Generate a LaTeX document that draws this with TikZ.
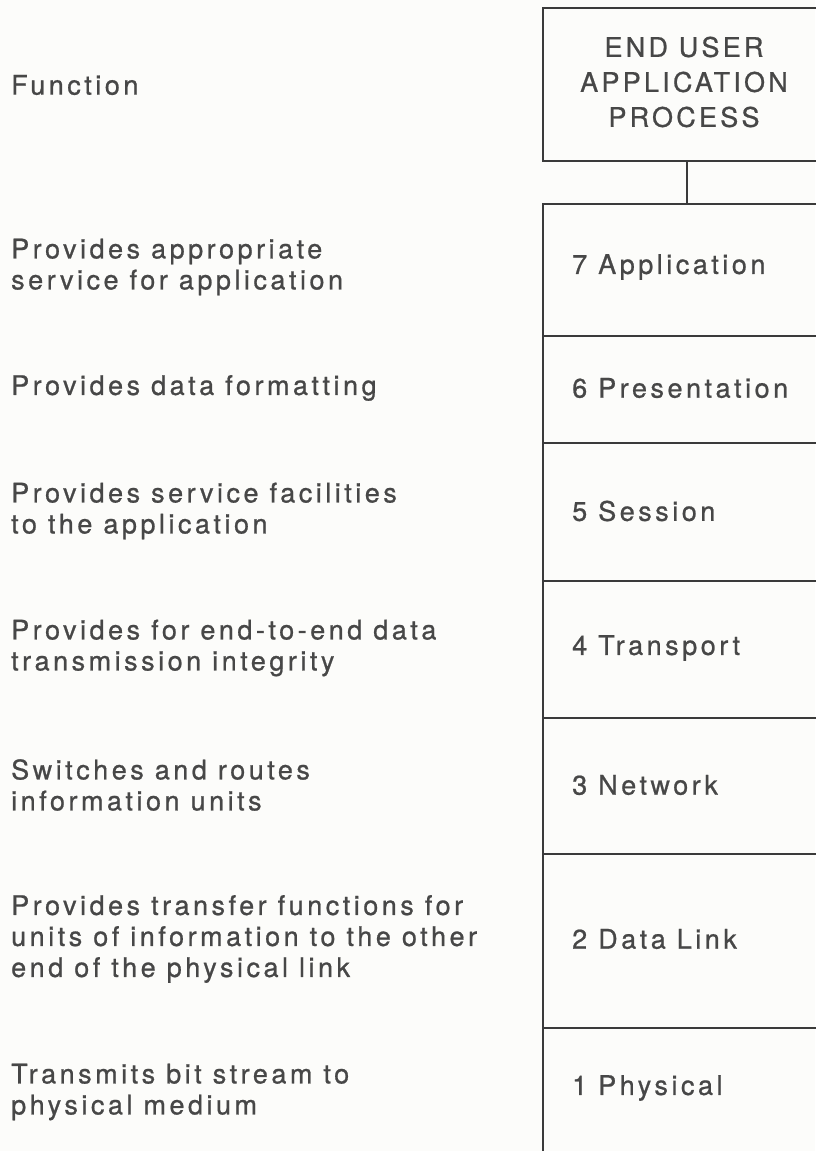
\documentclass[tikz,border=0pt]{standalone}
\usepackage{fontspec}
\newfontfamily\labfont{TeX Gyre Heros}[LetterSpace=13,FakeBold=0.8]
\newfontfamily\boxfont{TeX Gyre Heros}[LetterSpace=12,FakeBold=0.8]
\definecolor{txt}{HTML}{474747}
\definecolor{ln}{HTML}{3A3A3A}
\definecolor{bg}{HTML}{FCFCFA}
\tikzset{
  layer/.style={draw=ln, line width=2pt, rectangle, minimum width=288pt, inner sep=0pt, anchor=north west},
  lab/.style={text=txt, font=\labfont\fontsize{27}{31}\selectfont, anchor=west, inner sep=0pt},
  desc/.style={text=txt, font=\labfont\fontsize{27}{31}\selectfont, anchor=west, align=left, inner sep=0pt},
  conn/.style={draw=ln, line width=2pt}
}
\begin{document}
\begin{tikzpicture}[x=1pt,y=-1pt]
\fill[bg] (0,0) rectangle (815,1151);
\useasboundingbox (0,0) rectangle (815,1151);

% top box
\node[layer, minimum height=153pt] (top) at (542,7) {};
\node[text=txt, font=\boxfont\fontsize{27}{35}\selectfont, align=center, inner sep=0pt] (toptxt) at (684,82) {END USER\\APPLICATION\\PROCESS};

% stack
\node[layer, minimum height=132pt] (L7) at (542,203) {};
\node[layer, minimum height=107pt] (L6) at (542,335) {};
\node[layer, minimum height=138pt] (L5) at (542,442) {};
\node[layer, minimum height=137pt] (L4) at (542,580) {};
\node[layer, minimum height=136pt] (L3) at (542,717) {};
\node[layer, minimum height=174pt] (L2) at (542,853) {};
\node[layer, minimum height=140pt] (L1) at (542,1027) {};

\draw[conn] (top.south) -- (L7.north);

% layer labels
\node[lab] (t7) at (572,267) {7 Application};
\node[lab] (t6) at (572,388) {6 Presentation};
\node[lab] (t5) at (572,511) {5 Session};
\node[lab] (t4) at (572,648) {4 Transport};
\node[lab] (t3) at (572,785) {3 Network};
\node[lab] (t2) at (572,939) {2 Data Link};
\node[lab] (t1) at (572,1088) {1 Physical};

% descriptions
\node[desc] (fn) at (11,85) {Function};
\node[desc] (d7) at (11,267) {Provides appropriate\\service for application};
\node[desc] (d6) at (11,388) {Provides data formatting};
\node[desc] (d5) at (11,511) {Provides service facilities\\to the application};
\node[desc] (d4) at (11,648) {Provides for end-to-end data\\transmission integrity};
\node[desc] (d3) at (11,785) {Switches and routes\\information units};
\node[desc] (d2) at (11,939) {Provides transfer functions for\\units of information to the other\\end of the physical link};
\node[desc] (d1) at (11,1092) {Transmits bit stream to\\physical medium};
\end{tikzpicture}
\end{document}
